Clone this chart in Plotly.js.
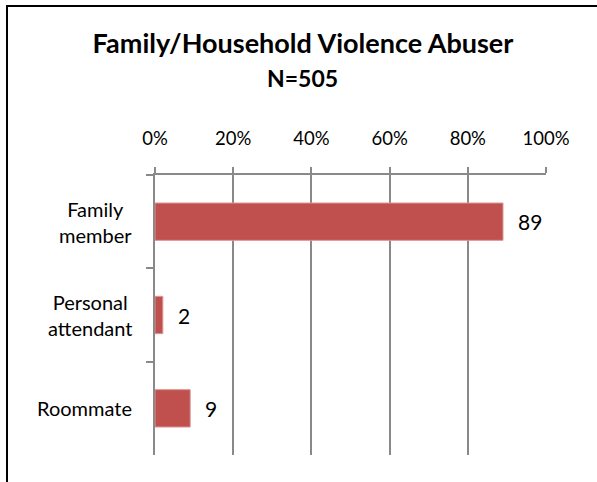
<!DOCTYPE html>
<html>
<head>
<meta charset="utf-8">
<script src="https://cdn.plot.ly/plotly-3.0.1.min.js"></script>
<style>
  html, body { margin: 0; padding: 0; background: #fff; overflow: hidden; }
  #wrap { position: relative; width: 597px; height: 482px; }
  #chart { position: absolute; left: 0; top: 0; width: 597px; height: 482px; }
  #frame { position: absolute; left: 6px; top: 5px; width: 700px; height: 600px;
           border-left: 2px solid #000; border-top: 2px solid #000; pointer-events: none; }
</style>
</head>
<body>
<div id="wrap">
  <div id="chart"></div>
  <div id="frame"></div>
</div>
<script>
// Data
const categories = ["Family<br>member", "Personal<br>attendant", "Roommate"];
const values = [89, 2, 9];
const tickVals = [0, 20, 40, 60, 80, 100];
const tickText = ["0%", "20%", "40%", "60%", "80%", "100%"];
const chartTitle = "Family/Household Violence Abuser";
const subTitle = "N=505";

const FONT = "Lato, 'Open Sans', sans-serif";
const barColor = "#C0504D";
const gridColor = "#898989";

const trace = {
  type: "bar",
  orientation: "h",
  x: values,
  y: categories,
  marker: { color: barColor, line: { color: "#D99694", width: 1 } },
  hoverinfo: "none"
};

const annotations = [];
// value labels
values.forEach((v, i) => {
  annotations.push({
    x: v, y: categories[i], xref: "x", yref: "y",
    text: String(v), showarrow: false,
    xanchor: "left", yanchor: "middle", xshift: 13,
    font: { family: FONT, size: 21, color: "#000" }
  });
});
// category labels (centered lines, right-anchored)
categories.forEach((c) => {
  annotations.push({
    x: 0, y: c, xref: "x", yref: "y",
    text: c, showarrow: false, align: "center",
    xanchor: "right", yanchor: "middle", xshift: -21,
    font: { family: FONT, size: 20, color: "#000" }
  });
});
// subtitle
annotations.push({
  x: 0.378, y: 1.346, xref: "paper", yref: "paper",
  text: "<b>" + subTitle + "</b>", showarrow: false,
  xanchor: "center", yanchor: "middle",
  font: { family: FONT, size: 23, color: "#000" }
});

const layout = {
  width: 597, height: 482,
  margin: { l: 155, r: 50.5, t: 175, b: 27, pad: 0 },
  paper_bgcolor: "#fff", plot_bgcolor: "#fff",
  showlegend: false,
  bargap: 0.6,
  title: {
    text: "<b>" + chartTitle + "</b>",
    x: 303 / 597, xref: "container", xanchor: "center",
    y: 1 - 44 / 482, yref: "container", yanchor: "middle",
    font: { family: FONT, size: 27, color: "#000" }
  },
  xaxis: {
    side: "top",
    range: [0, 100],
    tickvals: tickVals, ticktext: tickText,
    showgrid: true, gridcolor: gridColor, gridwidth: 2,
    showline: true, linecolor: gridColor, linewidth: 2,
    ticks: "outside", ticklen: 6, tickcolor: gridColor, tickwidth: 2,
    tickfont: { family: FONT, size: 18.5, color: "#000" },
    ticklabelstandoff: 15,
    zeroline: false, fixedrange: true
  },
  yaxis: {
    autorange: "reversed",
    type: "category",
    showticklabels: false,
    showline: true, linecolor: gridColor, linewidth: 2,
    ticks: "outside", ticklen: 7, tickcolor: gridColor, tickwidth: 2,
    tickson: "boundaries",
    showgrid: false, zeroline: false, fixedrange: true
  },
  annotations: annotations
};

Plotly.newPlot("chart", [trace], layout, { displayModeBar: false, staticPlot: true });
</script>
</body>
</html>
